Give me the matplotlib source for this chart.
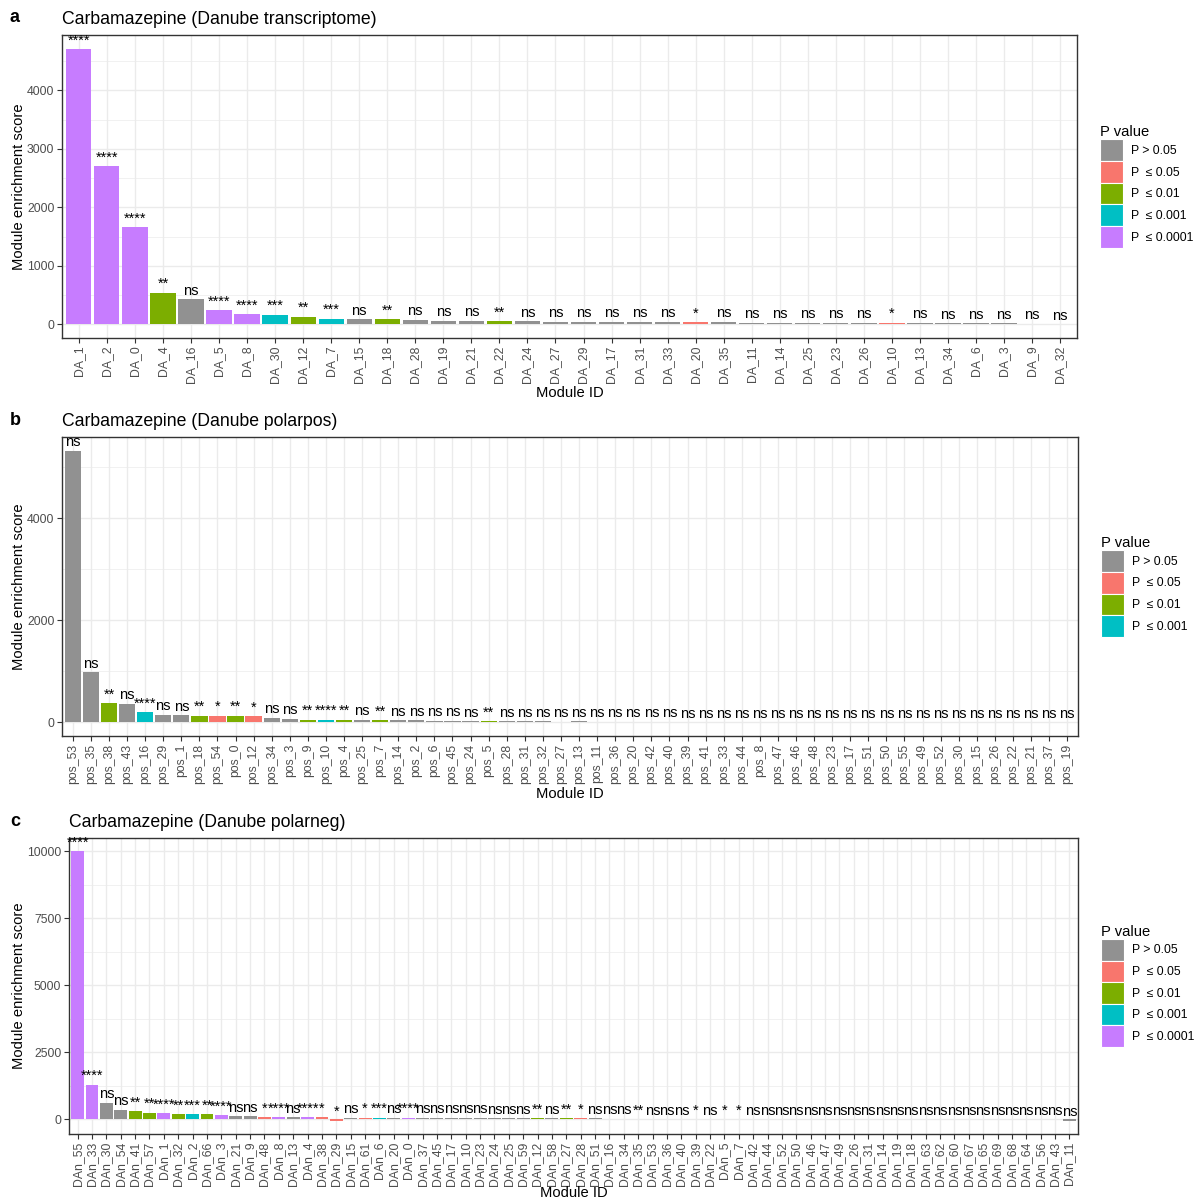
import numpy as np
import matplotlib
matplotlib.use("Agg")
import matplotlib.pyplot as plt
from matplotlib.patches import Patch
from matplotlib.ticker import MultipleLocator

plt.rcParams['font.family'] = ['Liberation Sans', 'DejaVu Sans']

# ---------------- data ----------------
ids_a = ["DA_1", "DA_2", "DA_0", "DA_4", "DA_16", "DA_5", "DA_8", "DA_30", "DA_12", "DA_7",
         "DA_15", "DA_18", "DA_28", "DA_19", "DA_21", "DA_22", "DA_24", "DA_27", "DA_29", "DA_17",
         "DA_31", "DA_33", "DA_20", "DA_35", "DA_11", "DA_14", "DA_25", "DA_23", "DA_26", "DA_10",
         "DA_13", "DA_34", "DA_6", "DA_3", "DA_9", "DA_32"]
vals_a = [4710, 2700, 1658, 540, 432, 245, 176, 165, 131, 97,
          90, 85, 80, 63, 63, 57, 57, 46, 46, 40,
          40, 40, 40, 40, 28, 28, 28, 28, 28, 28,
          25, 17, 17, 15, 12, 5]
sig_a = ["****", "****", "****", "**", "ns", "****", "****", "***", "**", "***",
         "ns", "**", "ns", "ns", "ns", "**", "ns", "ns", "ns", "ns",
         "ns", "ns", "*", "ns", "ns", "ns", "ns", "ns", "ns", "*",
         "ns", "ns", "ns", "ns", "ns", "ns"]
col_a = sig_a

ids_b = ["pos_53", "pos_35", "pos_38", "pos_43", "pos_16", "pos_29", "pos_1", "pos_18", "pos_54", "pos_0",
         "pos_12", "pos_34", "pos_3", "pos_9", "pos_10", "pos_4", "pos_25", "pos_7", "pos_14", "pos_2",
         "pos_6", "pos_45", "pos_24", "pos_5", "pos_28", "pos_31", "pos_32", "pos_27", "pos_13", "pos_11",
         "pos_36", "pos_20", "pos_42", "pos_40", "pos_39", "pos_41", "pos_33", "pos_44", "pos_8", "pos_47",
         "pos_46", "pos_48", "pos_23", "pos_17", "pos_51", "pos_50", "pos_55", "pos_49", "pos_52", "pos_30",
         "pos_15", "pos_26", "pos_22", "pos_21", "pos_37", "pos_19"]
vals_b = [5330, 980, 372, 370, 196, 150, 140, 135, 135, 135,
          120, 95, 75, 55, 55, 55, 50, 50, 40, 38,
          36, 35, 25, 25, 20, 19, 18, 17, 20, 12,
          12, 11, 11, 11, 10, 10, 10, 10, 9, 9,
          9, 8, 8, 8, 7, 7, 7, 6, 6, 6,
          5, 5, 4, 4, 3, 3]
sig_b = ["ns", "ns", "**", "ns", "****", "ns", "ns", "**", "*", "**",
         "*", "ns", "ns", "**", "****", "**", "ns", "**", "ns", "ns",
         "ns", "ns", "ns", "**"] + ["ns"] * 32
col_b = ["ns", "ns", "**", "ns", "***", "ns", "ns", "**", "*", "**",
         "*", "ns", "ns", "**", "***", "**", "ns", "**", "ns", "ns",
         "ns", "ns", "ns", "**"] + ["ns"] * 32

ids_c = ["DAn_55", "DAn_33", "DAn_30", "DAn_54", "DAn_41", "DAn_57", "DAn_1", "DAn_32", "DAn_2", "DAn_66",
         "DAn_3", "DAn_21", "DAn_9", "DAn_48", "DAn_8", "DAn_13", "DAn_4", "DAn_38", "DAn_29", "DAn_15",
         "DAn_61", "DAn_6", "DAn_20", "DAn_0", "DAn_37", "DAn_45", "DAn_17", "DAn_10", "DAn_23", "DAn_24",
         "DAn_25", "DAn_59", "DAn_12", "DAn_58", "DAn_27", "DAn_28", "DAn_51", "DAn_16", "DAn_34", "DAn_35",
         "DAn_53", "DAn_36", "DAn_40", "DAn_39", "DAn_22", "DAn_5", "DAn_7", "DAn_42", "DAn_44", "DAn_52",
         "DAn_50", "DAn_46", "DAn_47", "DAn_49", "DAn_26", "DAn_31", "DAn_14", "DAn_19", "DAn_18", "DAn_63",
         "DAn_62", "DAn_60", "DAn_67", "DAn_65", "DAn_69", "DAn_68", "DAn_64", "DAn_56", "DAn_43", "DAn_11"]
vals_c = [10000, 1300, 632, 372, 310, 260, 223, 186, 186, 186,
          149, 112, 112, 85, 85, 85, 85, 85, -40, 70,
          70, 70, 70, 70, 65, 65, 60, 60, 60, 55,
          55, 55, 60, 50, 55, 40, 40, 25, 25, 25,
          20, 20, 20, 20, 20, 20, 20, 15, 15, 15,
          14, 14, 13, 13, 12, 12, 11, 11, 10, 10,
          9, 9, 8, 8, 7, 7, 6, 6, 5, -40]
sig_c = ["****", "****", "ns", "ns", "**", "**", "****", "**", "***", "**",
         "****", "ns", "ns", "*", "****", "ns", "****", "*", "*", "ns",
         "*", "***", "ns", "****", "ns", "ns", "ns", "ns", "ns", "ns",
         "ns", "ns", "**", "ns", "**", "*", "ns", "ns", "ns", "**",
         "ns", "ns", "ns", "*", "ns", "*", "*"] + ["ns"] * 23
col_c = sig_c

palette = {"ns": "#919191", "*": "#F8766D", "**": "#7CAE00", "***": "#00BFC4", "****": "#C77CFF"}
legend_labels = {"ns": "P > 0.05", "*": "P  \u2264 0.05", "**": "P  \u2264 0.01",
                 "***": "P  \u2264 0.001", "****": "P  \u2264 0.0001"}

# ---------------- figure ----------------
W, H = 1196, 1199
fig = plt.figure(figsize=(W / 100, H / 100), dpi=100)


def axes_px(l, t, r, b):
    return fig.add_axes([l / W, 1 - b / H, (r - l) / W, (b - t) / H])


def draw(ax, ids, vals, sig, cols, title, major, minor, leg_keys, ylab_x, xpad):
    n = len(ids)
    x = np.arange(n)
    ax.bar(x, vals, width=0.9, color=[palette[c] for c in cols], zorder=2)
    for xi, v, s in zip(x, vals, sig):
        ax.annotate(s, (xi, v), xytext=(0, 1.0), textcoords="offset points",
                    ha="center", va="bottom", fontsize=10.5, color="black", zorder=3)
    lo = min(0, min(vals))
    hi = max(vals)
    R = hi - lo
    ax.set_ylim(lo - 0.05 * R, hi + 0.05 * R)
    ax.set_xlim(-0.6, n - 1 + 0.6)
    ax.set_xticks(x)
    ax.set_xticklabels(ids, rotation=90, ha="center", va="top", fontsize=8.8, color="#4D4D4D")
    ax.yaxis.set_major_locator(MultipleLocator(major))
    ax.yaxis.set_minor_locator(MultipleLocator(minor))
    ax.tick_params(axis="y", which="minor", length=0)
    ax.tick_params(axis="both", which="major", length=3.5, width=0.8, color="#333333",
                   labelsize=8.8, labelcolor="#4D4D4D", pad=2)
    ax.grid(True, which="major", color="#EBEBEB", lw=1.0, zorder=0)
    ax.grid(True, which="minor", axis="y", color="#EBEBEB", lw=0.5, zorder=0)
    ax.set_axisbelow(True)
    for sp in ax.spines.values():
        sp.set_color("#333333")
        sp.set_linewidth(1.0)
    ax.set_xlabel("Module ID", fontsize=10.6, labelpad=xpad)
    ax.set_ylabel("Module enrichment score", fontsize=10.6)
    ax.yaxis.set_label_coords(ylab_x, 0.5)
    ax.set_title(title, loc="left", fontsize=12.7, pad=8)
    handles = [Patch(facecolor=palette[k], edgecolor="white", linewidth=0.8, label=legend_labels[k])
               for k in leg_keys]
    ax.legend(handles=handles, title="P value", loc="center left", bbox_to_anchor=(1.023, 0.5),
              frameon=False, fontsize=8.8, title_fontsize=10.6, handlelength=1.85,
              handleheight=2.35, labelspacing=0.0, handletextpad=0.65, borderaxespad=0,
              borderpad=0, alignment="left")


ax_a = axes_px(62, 35, 1077, 338)
draw(ax_a, ids_a, vals_a, sig_a, col_a, "Carbamazepine (Danube transcriptome)", 1000, 500,
     ["ns", "*", "**", "***", "****"], (26 - 62) / 1015, 2)
ax_b = axes_px(62, 437, 1078, 736)
draw(ax_b, ids_b, vals_b, sig_b, col_b, "Carbamazepine (Danube polarpos)", 2000, 1000,
     ["ns", "*", "**", "***"], (26 - 62) / 1016, 2)
ax_c = axes_px(69, 838, 1078, 1134)
draw(ax_c, ids_c, vals_c, sig_c, col_c, "Carbamazepine (Danube polarneg)", 2500, 1250,
     ["ns", "*", "**", "***", "****"], (26 - 69) / 1009, 0)

for letter, ypx in [("a", 18), ("b", 420), ("c", 822)]:
    fig.text(10 / W, 1 - ypx / H, letter, fontsize=13, fontweight="bold", va="center", ha="left")

fig.savefig("out.png", dpi=100)
